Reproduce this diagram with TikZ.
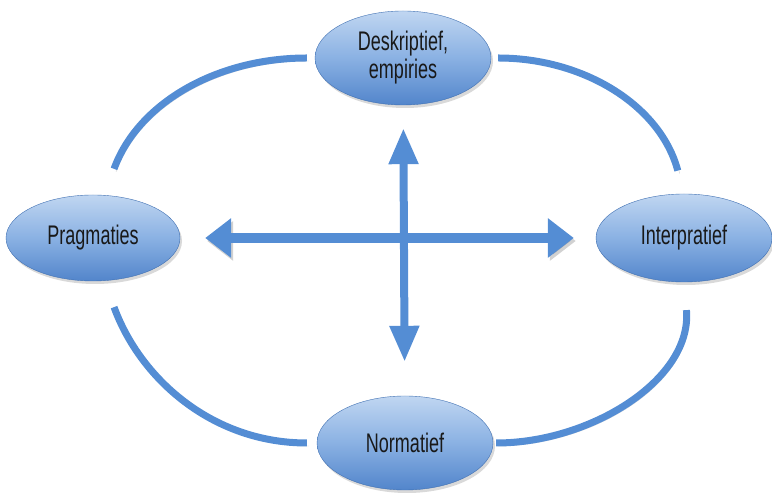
\documentclass[tikz,border=0pt]{standalone}
\usepackage{fontspec}
\setmainfont{Liberation Sans}[FakeStretch=0.67]
\usetikzlibrary{arrows.meta,shapes,shadows}

\definecolor{ringblue}{RGB}{84,141,212}
\definecolor{ovaltop}{RGB}{192,214,241}
\definecolor{ovalmiddle}{RGB}{138,177,227}
\definecolor{ovalbottom}{RGB}{82,133,203}
\definecolor{ovalborder}{RGB}{64,112,178}

\begin{document}
\begin{tikzpicture}[x=1bp,y=1bp]
	\tikzstyle{oval}=[ellipse, draw=ovalborder, thin, top color=ovaltop, bottom color=ovalbottom, middle color=ovalmiddle, minimum width=176bp, minimum height=90bp, inner sep=0pt, align=center, text=black!90, font=\fontsize{27}{28}\selectfont, drop shadow={opacity=0.3, shadow xshift=2bp, shadow yshift=-3bp}]
	\tikzstyle{soft_shadow}=[preaction={draw=black, opacity=0.18, transform canvas={xshift=2bp, yshift=-3bp}}]
	\tikzstyle{ring}=[line width=7bp, draw=ringblue, soft_shadow]
	\tikzstyle{axis_wide}=[line width=10bp, draw=ringblue, soft_shadow, {Triangle[width=38bp,length=26bp]}-{Triangle[width=38bp,length=26bp]}]
	\tikzstyle{axis_tall}=[line width=8bp, draw=ringblue, soft_shadow, {Triangle[width=28bp,length=36bp]}-{Triangle[width=28bp,length=36bp]}]

	\useasboundingbox (0,0) rectangle (772,498);

	\node [oval, minimum height=94bp] (des) at (403,440) {Deskriptief,\\empiries};
	\node [oval, minimum width=174bp, minimum height=86bp] (pra) at (93,260) {Pragmaties};
	\node [oval, minimum height=88bp] (int) at (684,260) {Interpratief};
	\node [oval, minimum height=94bp] (nor) at (405,55) {Normatief};

	% outer ring
	\draw [ring, shorten <=28bp, shorten >=8bp] (pra.75) to[out=70, in=180] (des.west);
	\draw [ring, shorten <=7bp, shorten >=24bp] (des.east) to[out=0, in=105] (int.north);
	\draw [ring, shorten <=28bp, shorten >=10bp] (pra.-75) to[out=-70, in=180] (nor.west);
	\draw [ring, shorten <=3bp, shorten >=28bp] (nor.east) to[out=0, in=-85] (int.south);

	% cross
	\draw [axis_tall, shorten <=23bp, shorten >=34bp] (des) -- (nor);
	\draw [axis_wide, shorten <=25bp, shorten >=22bp] (pra) -- (int);
\end{tikzpicture}
\end{document}
